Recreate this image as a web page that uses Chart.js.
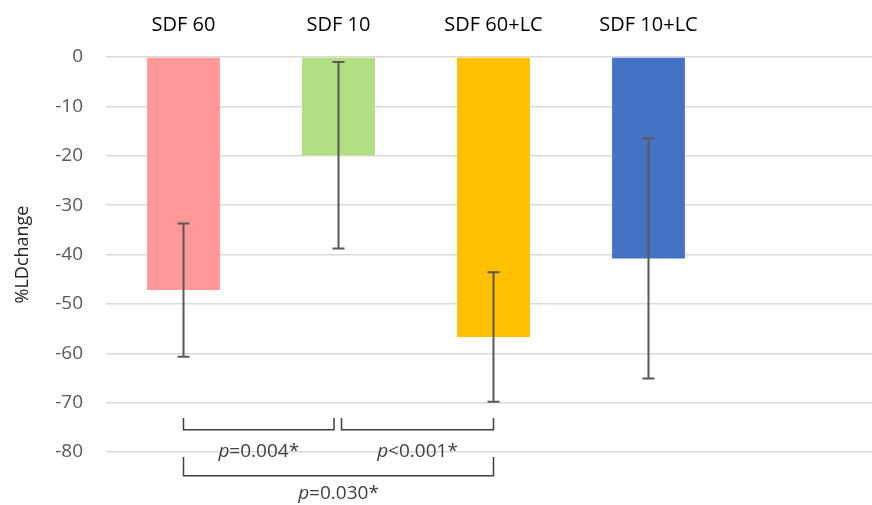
<!DOCTYPE html>
<html>
<head>
<meta charset="utf-8">
<script src="https://cdn.jsdelivr.net/npm/chart.js@4/dist/chart.umd.min.js"></script>
<style>
  html, body { margin: 0; padding: 0; background: #fff; overflow: hidden; }
  #wrap { position: absolute; left: 0; top: 0; width: 890px; height: 505px; }
</style>
</head>
<body>
<div id="wrap"><canvas id="c" width="890" height="505"></canvas></div>
<script>
// ---- data ----
const categories = ['SDF 60', 'SDF 10', 'SDF 60+LC', 'SDF 10+LC', ''];
const meanChange = [-47.2, -19.9, -56.7, -40.8];
const errorSize = [13.5, 18.9, 13.1, 24.3];
const barColors = ['#FF9999', '#B3DE81', '#FFC000', '#4472C4'];
const yTickValues = [0, -10, -20, -30, -40, -50, -60, -70, -80];
const comparisons = [
  { from: 0, to: 1, p: 'p', rest: '=0.004*', row: 0 },
  { from: 1, to: 2, p: 'p', rest: '<0.001*', row: 0 },
  { from: 0, to: 2, p: 'p', rest: '=0.030*', row: 1 }
];

// ---- style constants ----
const FONT = '"Open Sans", "Noto Sans", sans-serif';
const P_SIZE = 19;
const bracketRows = [
  { tickTop: -73.1, line: -75.5, text: -80.0 },
  { tickTop: -81.0, line: -84.8, text: -88.4 }
];

const errorBarPlugin = {
  id: 'errorBars',
  afterDatasetsDraw(chart) {
    const ctx = chart.ctx;
    const meta = chart.getDatasetMeta(0);
    const y = chart.scales.y;
    ctx.save();
    ctx.strokeStyle = '#595959';
    ctx.lineWidth = 2;
    meta.data.forEach((bar, i) => {
      const x = bar.x;
      const yt = y.getPixelForValue(meanChange[i] + errorSize[i]);
      const yb = y.getPixelForValue(meanChange[i] - errorSize[i]);
      ctx.beginPath();
      ctx.moveTo(x, yt); ctx.lineTo(x, yb);
      ctx.moveTo(x - 6, yt); ctx.lineTo(x + 6, yt);
      ctx.moveTo(x - 6, yb); ctx.lineTo(x + 6, yb);
      ctx.stroke();
    });
    ctx.restore();
  },
  afterDraw(chart) {
    const ctx = chart.ctx;
    const xs = chart.scales.x;
    const y = chart.scales.y;
    ctx.save();
    ctx.strokeStyle = '#404040';
    ctx.lineWidth = 1.5;
    comparisons.forEach((c) => {
      const r = bracketRows[c.row];
      let xl = xs.getPixelForValue(c.from);
      let xr = xs.getPixelForValue(c.to);
      comparisons.forEach((o) => {
        if (o !== c && o.row === c.row) {
          if (o.to === c.from) xl += 3;
          if (o.from === c.to) xr -= 4.5;
        }
      });
      const yt = y.getPixelForValue(r.tickTop);
      const yl = y.getPixelForValue(r.line);
      ctx.beginPath();
      ctx.moveTo(xl, yt); ctx.lineTo(xl, yl); ctx.lineTo(xr, yl); ctx.lineTo(xr, yt);
      ctx.stroke();
      const ty = y.getPixelForValue(r.text);
      ctx.fillStyle = '#404040';
      ctx.textBaseline = 'middle';
      ctx.font = 'italic ' + P_SIZE + 'px ' + FONT;
      const wp = ctx.measureText(c.p).width;
      ctx.font = P_SIZE + 'px ' + FONT;
      const wr = ctx.measureText(c.rest).width;
      const cx = (xl + xr) / 2;
      const start = cx - (wp + wr) / 2;
      ctx.textAlign = 'left';
      ctx.font = 'italic ' + P_SIZE + 'px ' + FONT;
      ctx.fillText(c.p, start, ty);
      ctx.font = P_SIZE + 'px ' + FONT;
      ctx.fillText(c.rest, start + wp, ty);
    });
    ctx.restore();
  }
};

new Chart(document.getElementById('c'), {
  type: 'bar',
  data: {
    labels: categories,
    datasets: [{
      data: meanChange,
      backgroundColor: barColors,
      borderWidth: 0,
      barPercentage: 0.47,
      categoryPercentage: 1.0
    }]
  },
  options: {
    responsive: false,
    animation: false,
    events: [],
    layout: { padding: { top: 0, bottom: 53, right: 9, left: 0 } },
    plugins: { legend: { display: false }, tooltip: { enabled: false } },
    scales: {
      x: {
        position: 'top',
        afterFit(scale) { scale.height = 57; },
        grid: { display: false, drawTicks: false },
        border: { display: false },
        ticks: { color: '#000000', font: { family: FONT, size: 20 }, padding: 20, maxRotation: 0 }
      },
      y: {
        min: -80, max: 0,
        afterBuildTicks(scale) { scale.ticks = yTickValues.map(v => ({ value: v })); },
        afterFit(scale) { scale.width = 106; },
        grid: { color: '#D9D9D9', lineWidth: 1.5, drawTicks: false },
        border: { display: false },
        ticks: { color: '#595959', font: { family: FONT, size: 19 }, padding: 23 },
        title: { display: true, text: '%LDchange', color: '#262626', font: { family: FONT, size: 18 }, padding: { top: 12, bottom: 0 } }
      }
    }
  },
  plugins: [errorBarPlugin]
});
</script>
</body>
</html>
